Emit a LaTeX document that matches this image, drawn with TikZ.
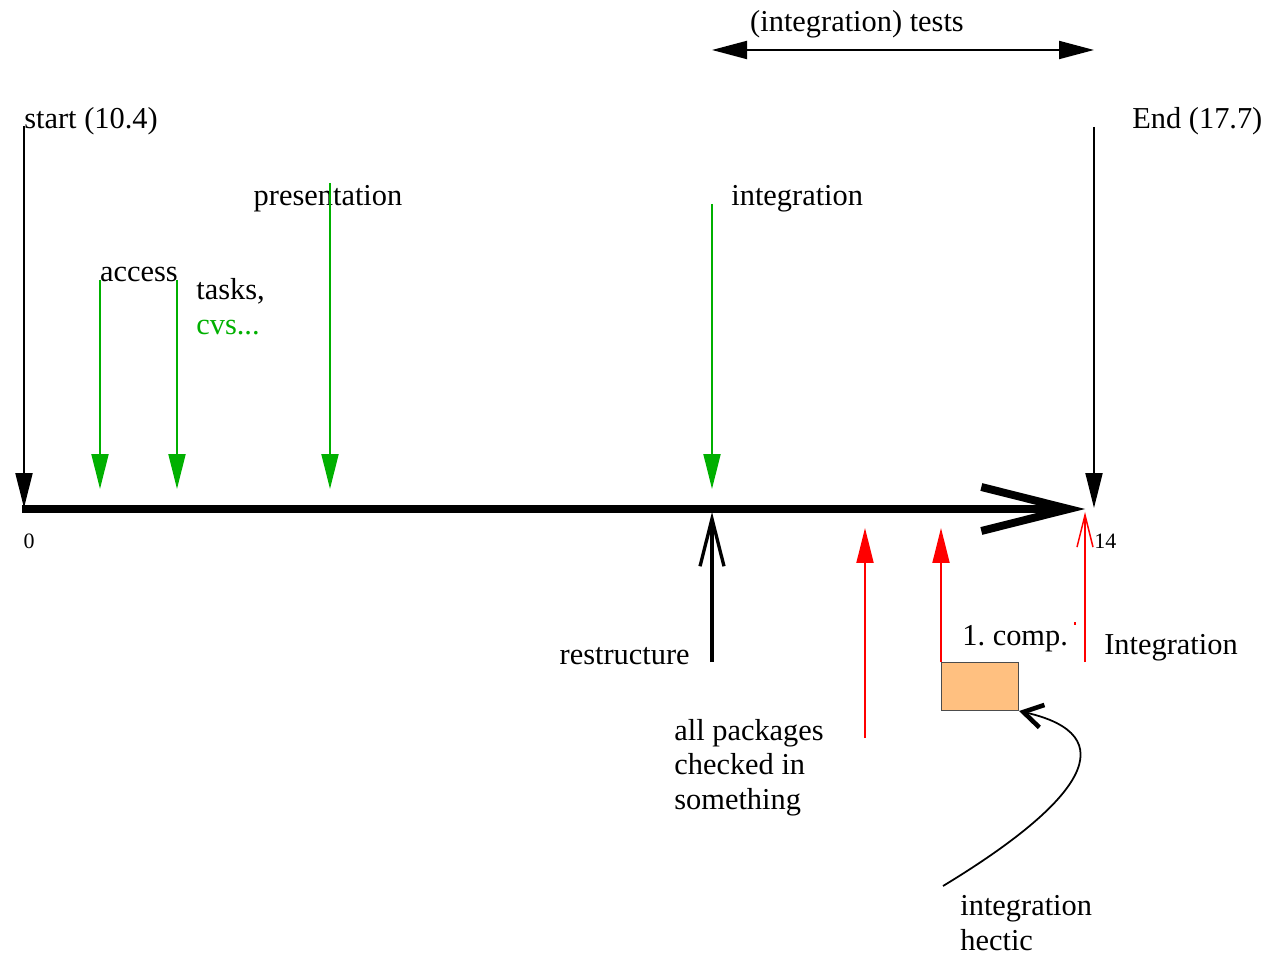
\documentclass[tikz,border=0pt]{standalone}
\usepackage{fontspec}
\setmainfont{Liberation Serif}
\usetikzlibrary{arrows.meta}
\definecolor{taskgreen}{RGB}{0,176,0}
\definecolor{compfill}{RGB}{255,192,128}

\begin{document}
\begin{tikzpicture}[x=0.02cm,y=-0.02cm,
    every node/.style={inner sep=0pt,font=\fontsize{17.3}{19.4}\selectfont},
    small/.style={font=\fontsize{12.5}{14}\selectfont},
    marker/.style={line width=1.1pt,-{Triangle[length=0.7cm,width=0.34cm]}},
    timeline/.style={line width=4.5pt,-{Straight Barb[length=1.75cm,width=0.88cm]}},
    barb/.style={-{Straight Barb[length=0.95cm,width=0.48cm]}}]
  \useasboundingbox (0,0) rectangle (1267,955);

  % the time line
  \coordinate (t0) at (22,509);
  \coordinate (t14) at (1085,509);
  \draw[timeline] (t0) -- (t14);
  \node (zero) [small,anchor=base] at (29,549) {0};
  \node (fourteen) [small,anchor=base west] at (1094,549) {14};

  % start and end
  \node (start) [anchor=base west] at (24,129) {start (10.4)};
  \node (end) [anchor=base west] at (1132,129) {End (17.7)};
  \coordinate (starttop) at (24,126);
  \coordinate (starttip) at (24,508);
  \coordinate (endtop) at (1094,127);
  \coordinate (endtip) at (1094,508);
  \draw[marker] (starttop) -- (starttip);
  \draw[marker] (endtop) -- (endtip);

  % tests
  \node (tests) [anchor=base] at (857,32) {(integration) tests};
  \coordinate (testsl) at (712,50);
  \coordinate (testsr) at (1094,50);
  \draw[line width=1.1pt,{Triangle[length=0.7cm,width=0.36cm]}-{Triangle[length=0.7cm,width=0.36cm]}] (testsl) -- (testsr);

  % green milestones
  \node (access) [anchor=base] at (139,282) {access};
  \node (tasks) [anchor=base west] at (196,300) {tasks,};
  \node (cvs) [anchor=base west,text=taskgreen] at (196,335) {cvs...};
  \node (pres) [anchor=base] at (328,206) {presentation};
  \node (integ) [anchor=base west] at (731,206) {integration};
  \coordinate (acc1) at (100,280);
  \coordinate (acc1tip) at (100,489);
  \coordinate (acc2) at (177,280);
  \coordinate (acc2tip) at (177,489);
  \coordinate (prestop) at (330,183);
  \coordinate (prestip) at (330,489);
  \coordinate (integtop) at (712,204);
  \coordinate (integtip) at (712,489);
  \draw[marker,taskgreen] (acc1) -- (acc1tip);
  \draw[marker,taskgreen] (acc2) -- (acc2tip);
  \draw[marker,taskgreen] (prestop) -- (prestip);
  \draw[marker,taskgreen] (integtop) -- (integtip);

  % below the line
  \node (restr) [anchor=base east] at (690,664) {restructure};
  \coordinate (restrbot) at (712,662);
  \coordinate (restrtip) at (712,512);
  \draw[barb,line width=1.9pt] (restrbot) -- (restrtip);

  \node (packages) [anchor=base west,align=left] at (674,809) {all packages\\checked in\\something};
  \coordinate (pkgbot) at (865,738);
  \coordinate (pkgtip) at (865,528);
  \draw[marker,red] (pkgbot) -- (pkgtip);

  \node (compbox) [draw=black!70,fill=compfill,line width=0.6pt,anchor=north west,
    minimum width=1.54cm,minimum height=0.96cm] at (941,662) {};
  \node (comp) [anchor=base west] at (962,645) {1.\ comp.};
  \coordinate (comptip) at (941,528);
  \draw[marker,red] (compbox.north west) -- (comptip);
  \fill[red] (1074,622) rectangle (1076,625);

  \node (integ2) [anchor=base west] at (1104,654) {Integration};
  \coordinate (integ2bot) at (1085,662);
  \coordinate (integ2tip) at (1085,512);
  \draw[red,line width=0.85pt,-{Straight Barb[length=0.64cm,width=0.32cm]}] (integ2bot) -- (integ2tip);

  \node (hectic) [anchor=base west,align=left] at (960,950) {integration\\hectic};
  \coordinate (hecticfrom) at (943,886);
  \draw[line width=1pt,-{Straight Barb[length=0.38cm,width=0.46cm,line width=2.6pt]}]
    (hecticfrom) .. controls (1085,800) and (1125,735) .. (compbox.south east);
\end{tikzpicture}
\end{document}
